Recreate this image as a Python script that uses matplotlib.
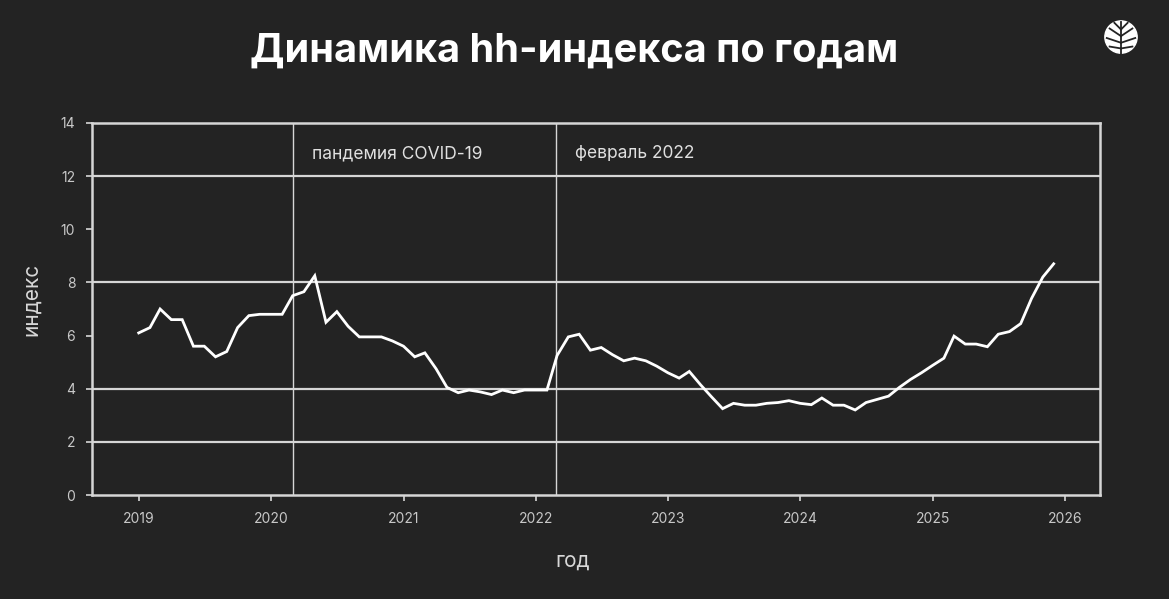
import pandas as pd
import matplotlib.pyplot as plt
from matplotlib.patches import Circle

# monthly hh index, Jan 2019 .. Dec 2025
values = [
    6.1, 6.3, 7.0, 6.6, 6.6, 5.6, 5.6, 5.2, 5.4, 6.3, 6.75, 6.8,      # 2019
    6.8, 6.8, 7.5, 7.65, 8.25, 6.5, 6.9, 6.35, 5.95, 5.95, 5.95, 5.8,  # 2020
    5.6, 5.2, 5.35, 4.75, 4.05, 3.85, 3.95, 3.88, 3.78, 3.95, 3.85, 3.95,  # 2021
    3.95, 3.95, 5.25, 5.95, 6.05, 5.45, 5.55, 5.28, 5.05, 5.15, 5.05, 4.85,  # 2022
    4.6, 4.4, 4.65, 4.15, 3.7, 3.25, 3.45, 3.38, 3.38, 3.45, 3.48, 3.55,  # 2023
    3.45, 3.4, 3.65, 3.38, 3.38, 3.2, 3.48, 3.6, 3.72, 4.05, 4.35, 4.6,  # 2024
    4.88, 5.15, 5.98, 5.68, 5.68, 5.58, 6.05, 6.15, 6.45, 7.4, 8.2, 8.7,  # 2025
]
dates = pd.date_range("2019-01-01", periods=len(values), freq="MS")

events = ["пандемия COVID-19", "февраль 2022"]
event_dates = pd.to_datetime(["2020-03-01", "2022-02-26"])

years = list(range(2019, 2027))
grid_levels = [2, 4, 8, 12]
yticks = [0, 2, 4, 6, 8, 10, 12, 14]

bg = "#232323"
fg = "#d6d6d6"
font = "Inter"

fig = plt.figure(figsize=(11.69, 5.99), dpi=100, facecolor=bg)
ax = fig.add_axes([0.0787, 0.1736, 0.8623, 0.6211], facecolor=bg)

for lvl in grid_levels:
    ax.axhline(lvl, color=fg, lw=1.6, zorder=1)
for d in event_dates:
    ax.axvline(d, color=fg, lw=1.0, zorder=1)

ax.plot(dates, values, color="white", lw=2.0, zorder=3, solid_joinstyle="miter")

for txt, d in zip(events, event_dates):
    ax.annotate(txt, (d, 12.85), xytext=(14, 0), textcoords="offset points",
                color="#e0e0e0", fontsize=12.5, family=font, va="center")

ax.set_ylim(0, 14)
ax.set_xlim(pd.Timestamp("2018-08-25"), pd.Timestamp("2026-04-08"))
ax.set_yticks(yticks)
ax.set_xticks([pd.Timestamp(f"{y}-01-01") for y in years])
ax.set_xticklabels([str(y) for y in years])

for s in ax.spines.values():
    s.set_color(fg)
    s.set_linewidth(1.8)
ax.tick_params(colors=fg, labelsize=10, length=4, width=1.2, pad=8)
for lab in ax.get_xticklabels() + ax.get_yticklabels():
    lab.set_family(font)
    lab.set_color("#c8c8c8")

ax.set_ylabel("индекс", color="#d8d8d8", fontsize=15, family=font)
ax.yaxis.set_label_coords(-0.051, 0.525)
ax.set_xlabel("год", color="#d8d8d8", fontsize=15, family=font)
ax.xaxis.set_label_coords(0.477, -0.15)

fig.text(0.491, 0.915, "Динамика hh-индекса по годам", color="white",
         fontsize=28.5, fontweight="bold", family=font, ha="center", va="center")

# logo in the top right corner
lg = fig.add_axes([1102 / 1169, 1 - 57 / 599, 38 / 1169, 38 / 599])
lg.set_xlim(-1, 1)
lg.set_ylim(-1, 1)
lg.set_aspect("equal")
lg.axis("off")
lg.add_patch(Circle((0, 0.05), 0.85, color="white"))
branches = [
    [(0, -0.85), (0, 0.85)],
    [(0, 0.1), (-0.6, 0.5)], [(0, 0.1), (0.6, 0.5)],
    [(0, -0.25), (-0.75, 0.0)], [(0, -0.25), (0.75, 0.0)],
    [(0, -0.55), (-0.6, -0.45)], [(0, -0.55), (0.6, -0.45)],
    [(0, 0.45), (-0.35, 0.8)], [(0, 0.45), (0.35, 0.8)],
]
for b in branches:
    lg.plot([b[0][0], b[1][0]], [b[0][1], b[1][1]], color=bg, lw=1.3)

fig.savefig("out.png", dpi=100, facecolor=bg)
